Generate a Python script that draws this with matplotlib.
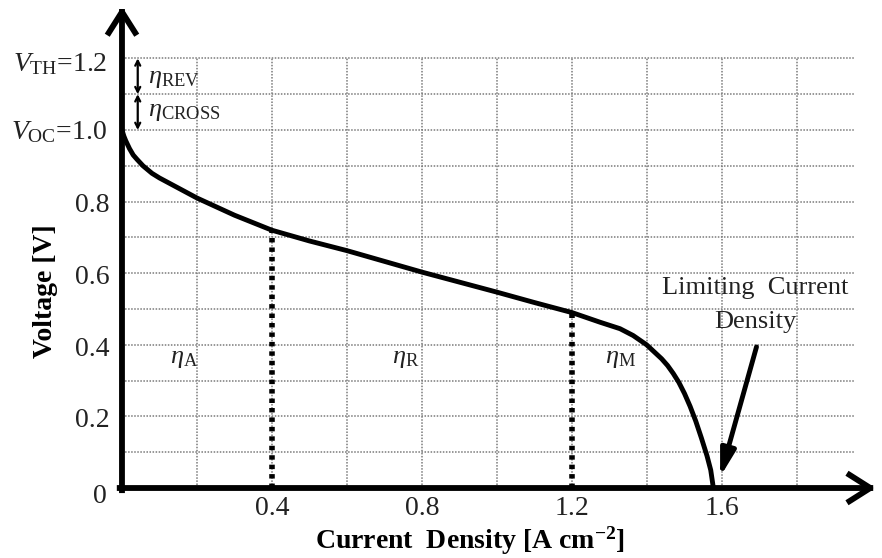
import numpy as np
import matplotlib.pyplot as plt

plt.rcParams['font.family'] = ['Liberation Serif', 'DejaVu Serif']
plt.rcParams['mathtext.fontset'] = 'custom'
plt.rcParams['mathtext.rm'] = 'Liberation Serif'
plt.rcParams['mathtext.it'] = 'Liberation Serif:italic'
plt.rcParams['mathtext.bf'] = 'Liberation Serif:bold'

# polarization curve (current density A/cm2, cell voltage V)
current = [0, 0.005, 0.01, 0.02, 0.03, 0.04, 0.056, 0.08, 0.1, 0.15, 0.2, 0.3, 0.4,
           0.5, 0.6, 0.7, 0.8, 0.9, 1.0, 1.1, 1.2, 1.275, 1.328, 1.363, 1.399,
           1.439, 1.455, 1.47, 1.485, 1.5, 1.515, 1.53, 1.545, 1.56, 1.57, 1.577]
voltage = [1.0, 0.983, 0.97, 0.948, 0.93, 0.918, 0.9, 0.879, 0.866, 0.838, 0.81,
           0.762, 0.72, 0.69, 0.663, 0.633, 0.603, 0.575, 0.547, 0.518, 0.49,
           0.463, 0.445, 0.426, 0.4, 0.361, 0.342, 0.32, 0.295, 0.264, 0.228,
           0.187, 0.14, 0.09, 0.05, 0.0]

x_ticks = [0.4, 0.8, 1.2, 1.6]
x_tick_labels = ['0.4', '0.8', '1.2', '1.6']
y_ticks = [0.2, 0.4, 0.6, 0.8]
y_tick_labels = ['0.2', '0.4', '0.6', '0.8']
x_grid = [0.2, 0.4, 0.6, 0.8, 1.0, 1.2, 1.4, 1.6, 1.8]
y_grid = [0.1, 0.2, 0.3, 0.4, 0.5, 0.6, 0.7, 0.8, 0.9, 1.0, 1.1, 1.2]
region_bounds = [0.4, 1.2]       # activation / ohmic / mass-transport split
region_labels = [r'$\eta_{\mathrm{A}}$', r'$\eta_{\mathrm{R}}$', r'$\eta_{\mathrm{M}}$']
region_label_x = [0.128, 0.72, 1.288]
V_TH = 1.2
V_OC = 1.0
V_MID = 1.1

fig = plt.figure(figsize=(8.82, 5.58), dpi=100)
ax = fig.add_axes([0, 0, 1, 1])
ax.set_xlim(-0.3253, 2.0267)
ax.set_ylim(-0.1955, 1.3631)
ax.axis('off')

# dotted grid
grid_kw = dict(color='#7a7a7a', lw=1.1, linestyle=(0, (1, 1)), zorder=1)
for gy in y_grid:
    ax.plot([0, 1.955], [gy, gy], **grid_kw)
for gx in x_grid:
    ax.plot([gx, gx], [0, 1.2], **grid_kw)

# axes with arrow heads
arrow_kw = dict(arrowstyle='->,head_length=1.5,head_width=0.95', lw=4.2, color='black',
                shrinkA=0, shrinkB=0, capstyle='projecting')
ax.annotate('', xy=(0, 1.345), xytext=(0, -0.006), arrowprops=arrow_kw, zorder=5)
ax.annotate('', xy=(2.01, 0), xytext=(-0.006, 0), arrowprops=arrow_kw, zorder=5)

# curve
ax.plot(current, voltage, color='black', lw=3.5, solid_capstyle='butt',
        solid_joinstyle='round', zorder=4)

# region boundaries
for xb in region_bounds:
    vb = voltage[current.index(xb)]
    ax.plot([xb, xb], [0, vb], color='black', lw=4, linestyle=(0, (0.8, 0.9)),
            zorder=3)

for lbl, lx in zip(region_labels, region_label_x):
    ax.text(lx, 0.35, lbl, fontsize=19, color='#222222', va='baseline', ha='left')

# tick labels
for t, s in zip(y_ticks, y_tick_labels):
    ax.text(-0.032, t - 0.012, s, fontsize=20, ha='right', va='center', color='#222222')
for t, s in zip(x_ticks, x_tick_labels):
    ax.text(t, -0.058, s, fontsize=20, ha='center', va='center', color='#222222')
ax.text(-0.058, -0.025, '0', fontsize=20, ha='center', va='center', color='#222222')

ax.text(-0.04, 1.164, r'$V_{\mathrm{TH}}$=1.2', fontsize=20, ha='right', va='baseline',
        color='#222222')
ax.text(-0.04, 0.975, r'$V_{\mathrm{OC}}$=1.0', fontsize=20, ha='right', va='baseline',
        color='#222222')

# small overpotential markers
small_kw = dict(arrowstyle='<->,head_length=0.35,head_width=0.18', lw=1.6, color='black',
                shrinkA=0, shrinkB=0)
ax.annotate('', xy=(0.042, V_TH), xytext=(0.042, V_MID), arrowprops=small_kw)
ax.annotate('', xy=(0.042, V_MID), xytext=(0.042, V_OC), arrowprops=small_kw)
ax.text(0.07, 1.131, r'$\eta_{\mathrm{REV}}$', fontsize=19, color='#222222', va='baseline')
ax.text(0.07, 1.04, r'$\eta_{\mathrm{CROSS}}$', fontsize=19, color='#222222', va='baseline')

# limiting current annotation
ax.text(1.688, 0.543, 'Limiting  Current', fontsize=19, ha='center', va='baseline',
        color='#222222')
ax.text(1.688, 0.446, 'Density', fontsize=19, ha='center', va='baseline', color='#222222')
ax.annotate('', xy=(1.595, 0.031), xytext=(1.692, 0.394),
            arrowprops=dict(arrowstyle='-|>,head_length=1.6,head_width=0.45', lw=3.5,
                            color='black', shrinkA=0, shrinkB=0))

# axis titles
ax.text(0.928, -0.148, 'Current  Density [A cm$^{\\mathbf{-2}}$]', fontsize=20,
        fontweight='bold', ha='center', va='center')
ax.text(-0.205, 0.55, 'Voltage [V]', fontsize=20, fontweight='bold', rotation=90,
        ha='center', va='center')

fig.savefig('out.png', dpi=100)
